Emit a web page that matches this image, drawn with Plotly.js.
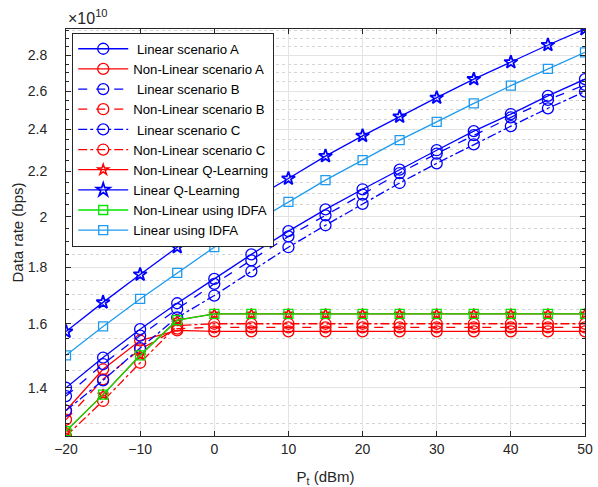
<!DOCTYPE html>
<html>
<head>
<meta charset="utf-8">
<script src="https://cdn.plot.ly/plotly-3.0.1.min.js"></script>
<style>html,body{margin:0;padding:0;background:#fff;}#chart{width:598px;height:487px;}</style>
</head>
<body>
<div id="chart"></div>
<script>
// Transmit power Pt (dBm)
const pt = [-20, -15, -10, -5, 0, 5, 10, 15, 20, 25, 30, 35, 40, 45, 50];

// Data rate in units of 10^10 bps
const linearA   = [1.400, 1.491, 1.582, 1.670, 1.757, 1.849, 1.941, 2.031, 2.118, 2.207, 2.298, 2.391, 2.478, 2.574, 2.665];
const nonLinearA = [1.335, 1.455, 1.545, 1.578, 1.575, 1.575, 1.575, 1.575, 1.575, 1.575, 1.575, 1.575, 1.575, 1.575, 1.575];
const linearB   = [1.376, 1.471, 1.561, 1.650, 1.739, 1.826, 1.920, 2.006, 2.095, 2.191, 2.282, 2.371, 2.461, 2.552, 2.634];
const nonLinearB = [1.310, 1.425, 1.517, 1.584, 1.588, 1.588, 1.588, 1.588, 1.588, 1.588, 1.588, 1.588, 1.588, 1.588, 1.588];
const linearC   = [1.335, 1.422, 1.521, 1.621, 1.697, 1.785, 1.877, 1.965, 2.055, 2.146, 2.236, 2.326, 2.416, 2.508, 2.597];
const nonLinearC = [1.266, 1.362, 1.475, 1.594, 1.600, 1.600, 1.600, 1.600, 1.600, 1.600, 1.600, 1.600, 1.600, 1.600, 1.600];
const nonLinearQL = [1.279, 1.380, 1.498, 1.612, 1.633, 1.633, 1.633, 1.633, 1.633, 1.633, 1.633, 1.633, 1.633, 1.633, 1.633];
const linearQL  = [1.574, 1.673, 1.773, 1.877, 1.970, 2.070, 2.166, 2.270, 2.368, 2.465, 2.564, 2.665, 2.761, 2.862, 2.959];
const nonLinearIDFA = [1.279, 1.380, 1.498, 1.612, 1.633, 1.633, 1.633, 1.633, 1.633, 1.633, 1.633, 1.633, 1.633, 1.633, 1.633];
const linearIDFA = [1.498, 1.591, 1.685, 1.779, 1.877, 1.970, 2.063, 2.159, 2.251, 2.347, 2.438, 2.534, 2.629, 2.723, 2.818];

const yTickVals = [1.4, 1.6, 1.8, 2.0, 2.2, 2.4, 2.6, 2.8];
const yTickText = ['1.4', '1.6', '1.8', '2', '2.2', '2.4', '2.6', '2.8'];
const yMinorVals = [1.25, 1.3, 1.35, 1.45, 1.5, 1.55, 1.65, 1.7, 1.75, 1.85, 1.9, 1.95, 2.05, 2.1, 2.15, 2.25, 2.3, 2.35, 2.45, 2.5, 2.55, 2.65, 2.7, 2.75, 2.85, 2.9, 2.95];
const xTickVals = [-20, -10, 0, 10, 20, 30, 40, 50];

const NB = '\u00a0';
const BLUE = '#0000ff', RED = '#ff0000', GREEN = '#00e600', SKY = '#1e9bf0';

function tr(name, y, color, dash, symbol, size, lw) {
  return {
    x: pt, y: y, name: name, type: 'scatter', mode: 'lines+markers',
    line: {color: color, width: 1.3, dash: dash},
    marker: {symbol: symbol, size: size, color: color, line: {color: color, width: lw || 1.3}}
  };
}

const data = [
  tr(NB + 'Linear scenario A', linearA, BLUE, 'solid', 'circle-open', 11),
  tr('Non-Linear scenario A', nonLinearA, RED, 'solid', 'circle-open', 11),
  tr(NB + 'Linear scenario B', linearB, BLUE, 'dash', 'circle-open', 11),
  tr('Non-Linear scenario B', nonLinearB, RED, 'dash', 'circle-open', 11),
  tr(NB + 'Linear scenario C', linearC, BLUE, 'dashdot', 'circle-open', 11),
  tr('Non-Linear scenario C', nonLinearC, RED, 'dashdot', 'circle-open', 11),
  tr('Non-Linear Q-Learning', nonLinearQL, RED, 'solid', 'star-open', 8, 1.5),
  tr('Linear Q-Learning', linearQL, BLUE, 'solid', 'star-open', 10, 1.8),
  tr('Non-Linear using IDFA', nonLinearIDFA, GREEN, 'solid', 'square-open', 9),
  tr('Linear using IDFA', linearIDFA, SKY, 'solid', 'square-open', 9)
];

const AX = '#262626';
const FONT = 'Liberation Sans, Arial, Helvetica, sans-serif';

const layout = {
  width: 598, height: 487,
  margin: {l: 66, r: 13, t: 29, b: 51, pad: 0},
  paper_bgcolor: '#ffffff', plot_bgcolor: '#ffffff',
  font: {family: FONT, size: 14, color: AX},
  showlegend: true,
  legend: {
    x: 0.012, y: 0.991, xanchor: 'left', yanchor: 'top',
    bgcolor: '#ffffff', bordercolor: AX, borderwidth: 1,
    font: {family: FONT, size: 13.2, color: '#000'},
    itemwidth: 50, tracegroupgap: 0
  },
  xaxis: {
    range: [-20, 50], tickmode: 'array', tickvals: xTickVals,
    ticks: 'inside', ticklen: 5, tickcolor: AX, tickwidth: 1,
    showline: true, linecolor: AX, linewidth: 1, mirror: 'ticks',
    showgrid: true, gridcolor: '#e3e3e3', gridwidth: 1, zeroline: false,
    tickfont: {family: FONT, size: 14, color: AX},
    title: {text: 'P<sub>t</sub> (dBm)', font: {family: FONT, size: 15, color: AX}, standoff: 17}
  },
  yaxis: {
    type: 'log', range: [Math.log10(1.266), Math.log10(2.959)],
    tickmode: 'array', tickvals: yTickVals, ticktext: yTickText,
    ticks: 'inside', ticklen: 5, tickcolor: AX, tickwidth: 1,
    showline: true, linecolor: AX, linewidth: 1, mirror: 'ticks',
    showgrid: true, gridcolor: '#e3e3e3', gridwidth: 1, zeroline: false,
    tickfont: {family: FONT, size: 14, color: AX},
    ticklabelstandoff: 15,
    minor: {tickmode: 'array', tickvals: yMinorVals, ticks: 'inside', ticklen: 3, tickcolor: AX,
            showgrid: true, gridcolor: '#d4d4d4', griddash: 'dot', gridwidth: 1},
    title: {text: 'Data rate (bps)', font: {family: FONT, size: 15, color: AX}, standoff: 0}
  },
  annotations: [{
    xref: 'paper', yref: 'paper', x: 0, y: 1, xanchor: 'left', yanchor: 'bottom',
    xshift: 0, yshift: 0, showarrow: false,
    text: '\u00d710<sup>10</sup>', font: {family: FONT, size: 16, color: AX}
  }]
};

Plotly.newPlot('chart', data, layout, {displayModeBar: false, staticPlot: true});
</script>
</body>
</html>
